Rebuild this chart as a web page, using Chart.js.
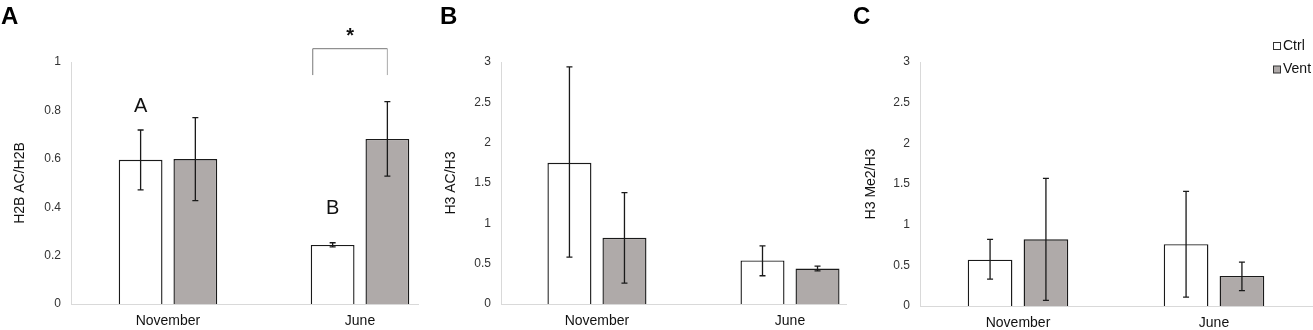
<!DOCTYPE html>
<html>
<head>
<meta charset="utf-8">
<script src="https://cdn.jsdelivr.net/npm/chart.js@4.4.1/dist/chart.umd.min.js"></script>
<style>
    html, body { margin: 0; padding: 0; background: #fff; }
    #wrap { position: relative; width: 1313px; height: 330px; overflow: hidden; }
    canvas { position: absolute; top: 0; }
</style>
</head>
<body>
<div id="wrap">
    <canvas id="chartA" width="435" height="330" style="left:0"></canvas>
    <canvas id="chartB" width="415" height="330" style="left:435px"></canvas>
    <canvas id="chartC" width="463" height="330" style="left:850px"></canvas>
</div>
<script>
// categories and series
const months = ['November', 'June'];
const seriesNames = ['Ctrl', 'Vent'];

// A: H2B AC/H2B
const h2bCtrl = [0.596, 0.244];
const h2bVent = [0.599, 0.682];
const h2bCtrlLow = [0.472, 0.236];
const h2bCtrlHigh = [0.719, 0.253];
const h2bVentLow = [0.427, 0.528];
const h2bVentHigh = [0.770, 0.836];

// B: H3 AC/H3
const h3acCtrl = [1.75, 0.54];
const h3acVent = [0.82, 0.44];
const h3acCtrlLow = [0.58, 0.35];
const h3acCtrlHigh = [2.94, 0.72];
const h3acVentLow = [0.26, 0.41];
const h3acVentHigh = [1.38, 0.47];

// C: H3 Me2/H3
const h3me2Ctrl = [0.57, 0.76];
const h3me2Vent = [0.82, 0.37];
const h3me2CtrlLow = [0.33, 0.11];
const h3me2CtrlHigh = [0.82, 1.41];
const h3me2VentLow = [0.07, 0.19];
const h3me2VentHigh = [1.57, 0.54];

// tick labels
const ticksA = [0, 0.2, 0.4, 0.6, 0.8, 1];
const ticksBC = [0, 0.5, 1, 1.5, 2, 2.5, 3];

// significance letters in panel A
const groupLetters = ['A', 'B'];

Chart.defaults.font.family = '"Liberation Sans", Arial, sans-serif';
Chart.defaults.color = '#222';

const ctrlStyle = { backgroundColor: '#ffffff', borderColor: '#1a1a1a', borderWidth: 1.4 };
const ventStyle = { backgroundColor: '#afaaa9', borderColor: '#1a1a1a', borderWidth: 1.4 };

function toPoints(values) {
    return values.map((v, i) => ({ x: i, y: v }));
}

// error bars, panel letter, extra marks
const panelDecor = {
    id: 'panelDecor',
    afterDatasetsDraw(chart, args, opts) {
        const ctx = chart.ctx;
        const yScale = chart.scales.y;
        ctx.save();
        ctx.strokeStyle = '#1a1a1a';
        ctx.lineWidth = 1.3;
        chart.data.datasets.forEach((ds, i) => {
            chart.getDatasetMeta(i).data.forEach((bar, j) => {
                const top = yScale.getPixelForValue(ds.errHigh[j]);
                const bot = yScale.getPixelForValue(ds.errLow[j]);
                ctx.beginPath();
                ctx.moveTo(bar.x, top); ctx.lineTo(bar.x, bot);
                ctx.moveTo(bar.x - 3, top); ctx.lineTo(bar.x + 3, top);
                ctx.moveTo(bar.x - 3, bot); ctx.lineTo(bar.x + 3, bot);
                ctx.stroke();
            });
        });

        if (opts.letters) {
            const ctrlBars = chart.getDatasetMeta(0).data;
            ctx.fillStyle = '#111';
            ctx.font = '20px "Liberation Sans", Arial, sans-serif';
            ctx.textAlign = 'center';
            ctx.textBaseline = 'middle';
            opts.letters.forEach((t, j) => {
                ctx.fillText(t, ctrlBars[j].x, yScale.getPixelForValue(opts.letterY[j]));
            });
        }

        if (opts.bracket) {
            const b = opts.bracket;
            const c = chart.getDatasetMeta(0).data[b.index];
            const v = chart.getDatasetMeta(1).data[b.index];
            const x1 = c.x - c.width / 2 + 2;
            const x2 = v.x;
            const yTop = yScale.getPixelForValue(b.top);
            const yBot = yScale.getPixelForValue(b.bottom);
            ctx.lineWidth = 1;
            ctx.strokeStyle = '#777';
            ctx.beginPath();
            ctx.moveTo(x1, yBot); ctx.lineTo(x1, yTop); ctx.lineTo(x2, yTop);
            ctx.stroke();
            ctx.strokeStyle = '#aaa';
            ctx.beginPath();
            ctx.moveTo(x2, yTop); ctx.lineTo(x2, yBot);
            ctx.stroke();
            ctx.fillStyle = '#111';
            ctx.font = 'bold 20px "Liberation Sans", Arial, sans-serif';
            ctx.textAlign = 'center';
            ctx.textBaseline = 'middle';
            ctx.fillText(b.label, (x1 + x2) / 2, yScale.getPixelForValue(b.labelY) + 4);
        }
        ctx.restore();
    },
    afterDraw(chart, args, opts) {
        const ctx = chart.ctx;
        ctx.save();
        ctx.fillStyle = '#000';
        ctx.font = 'bold 24px "Liberation Sans", Arial, sans-serif';
        ctx.textAlign = 'left';
        ctx.textBaseline = 'alphabetic';
        ctx.fillText(opts.panel, opts.panelX, 24);

        if (opts.legend) {
            ctx.font = '14px "Liberation Sans", Arial, sans-serif';
            ctx.textBaseline = 'middle';
            chart.data.datasets.forEach((ds, i) => {
                const cy = opts.legend.y + i * 23.5;
                ctx.fillStyle = ds.backgroundColor;
                ctx.fillRect(opts.legend.x, cy - 3.5, 7, 7);
                ctx.strokeStyle = '#333';
                ctx.lineWidth = 1;
                ctx.strokeRect(opts.legend.x + 0.5, cy - 3.5, 7, 7);
                ctx.fillStyle = '#111';
                ctx.fillText(ds.label, opts.legend.x + 10, cy);
            });
        }
        ctx.restore();
    }
};

function makePanel(id, cfg) {
    return new Chart(document.getElementById(id), {
        type: 'bar',
        data: {
            datasets: [
                Object.assign({ label: seriesNames[0], data: toPoints(cfg.ctrl), errLow: cfg.ctrlLow, errHigh: cfg.ctrlHigh }, ctrlStyle),
                Object.assign({ label: seriesNames[1], data: toPoints(cfg.vent), errLow: cfg.ventLow, errHigh: cfg.ventHigh }, ventStyle)
            ]
        },
        options: {
            responsive: false,
            animation: false,
            devicePixelRatio: 1,
            layout: { padding: { left: 0, right: cfg.padRight, top: 62, bottom: 0 } },
            datasets: { bar: { categoryPercentage: 0.57, barPercentage: 0.8 } },
            plugins: {
                legend: { display: false },
                tooltip: { enabled: false },
                panelDecor: cfg.decor
            },
            scales: {
                x: {
                    type: 'linear',
                    offset: false,
                    min: cfg.xMin,
                    max: cfg.xMax,
                    grid: { display: false, drawTicks: false },
                    border: { display: true, color: '#d9d9d9', width: 1 },
                    afterBuildTicks: s => { s.ticks = months.map((m, i) => ({ value: i })); },
                    afterFit: s => { s.height = cfg.xHeight; },
                    ticks: {
                        padding: 9,
                        autoSkip: false,
                        maxRotation: 0,
                        color: '#111',
                        font: { size: 14 },
                        callback: v => months[v]
                    }
                },
                y: {
                    min: 0,
                    max: cfg.yTicks[cfg.yTicks.length - 1],
                    grid: { display: false, drawTicks: false },
                    border: { display: true, color: '#d9d9d9', width: 1 },
                    afterBuildTicks: s => { s.ticks = cfg.yTicks.map(v => ({ value: v })); },
                    afterFit: s => { s.width = cfg.yWidth; },
                    ticks: {
                        padding: 10,
                        color: '#333',
                        font: { size: 12 },
                        callback: v => String(+v.toFixed(2))
                    },
                    title: {
                        display: true,
                        text: cfg.yTitle,
                        color: '#111',
                        font: { size: 14 },
                        padding: { top: cfg.titlePad, bottom: 0 }
                    }
                }
            }
        },
        plugins: [panelDecor]
    });
}

makePanel('chartA', {
    ctrl: h2bCtrl, vent: h2bVent,
    ctrlLow: h2bCtrlLow, ctrlHigh: h2bCtrlHigh, ventLow: h2bVentLow, ventHigh: h2bVentHigh,
    yTicks: ticksA, yTitle: 'H2B AC/H2B',
    yWidth: 71, titlePad: 11.6, xHeight: 26, padRight: 17,
    xMin: -0.505, xMax: 1.302,
    decor: {
        panel: 'A', panelX: 1,
        letters: groupLetters, letterY: [0.818, 0.393],
        bracket: { index: 1, top: 1.055, bottom: 0.946, label: '*', labelY: 1.12 }
    }
});

makePanel('chartB', {
    ctrl: h3acCtrl, vent: h3acVent,
    ctrlLow: h3acCtrlLow, ctrlHigh: h3acCtrlHigh, ventLow: h3acVentLow, ventHigh: h3acVentHigh,
    yTicks: ticksBC, yTitle: 'H3 AC/H3',
    yWidth: 66, titlePad: 7.6, xHeight: 26, padRight: 4,
    xMin: -0.497, xMax: 1.29,
    decor: { panel: 'B', panelX: 5 }
});

makePanel('chartC', {
    ctrl: h3me2Ctrl, vent: h3me2Vent,
    ctrlLow: h3me2CtrlLow, ctrlHigh: h3me2CtrlHigh, ventLow: h3me2VentLow, ventHigh: h3me2VentHigh,
    yTicks: ticksBC, yTitle: 'H3 Me2/H3',
    yWidth: 70, titlePad: 12.6, xHeight: 24, padRight: 1,
    xMin: -0.5, xMax: 1.5,
    decor: { panel: 'C', panelX: 3, legend: { x: 423, y: 46 } }
});
</script>
</body>
</html>
